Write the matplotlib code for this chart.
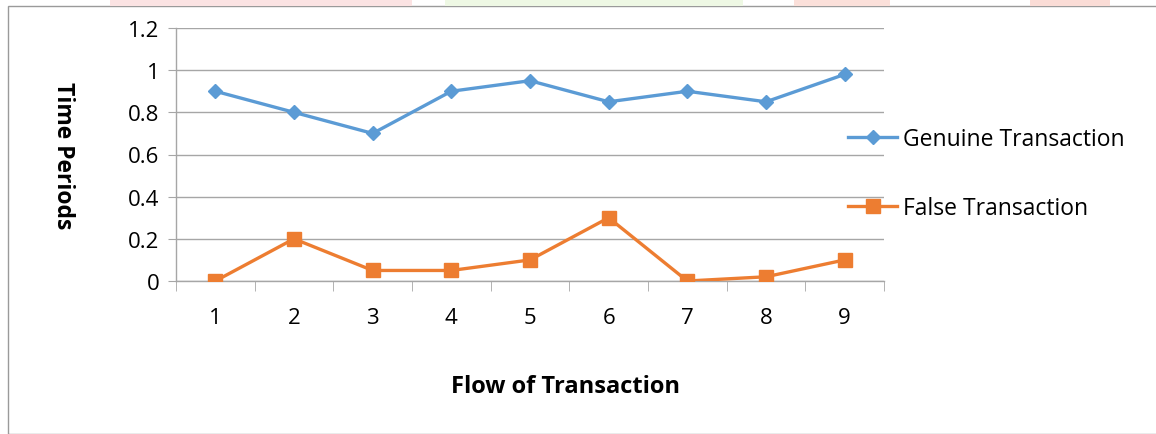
import matplotlib
matplotlib.use("Agg")

import matplotlib.pyplot as plt
from matplotlib.patches import Rectangle

# ---------------- data ----------------
flows = [1, 2, 3, 4, 5, 6, 7, 8, 9]
genuine = [0.90, 0.80, 0.70, 0.90, 0.95, 0.85, 0.90, 0.85, 0.98]
false_tx = [0.00, 0.20, 0.05, 0.05, 0.10, 0.30, 0.00, 0.02, 0.10]
y_ticks = [0, 0.2, 0.4, 0.6, 0.8, 1.0, 1.2]
y_tick_labels = ["0", "0.2", "0.4", "0.6", "0.8", "1", "1.2"]

BLUE = "#5B9BD5"
ORANGE = "#ED7D31"
GRID = "#A6A6A6"

plt.rcParams["font.family"] = ["Open Sans", "DejaVu Sans"]

W, H = 1156, 435
fig = plt.figure(figsize=(W / 100, H / 100), dpi=100, facecolor="white")

# page frame + faint watermark strip at the top
fig.add_artist(Rectangle((8 / W, 0), 1.2, 1 - 7 / H, transform=fig.transFigure,
                         fill=False, edgecolor="#9A9A9A", lw=1.0))
for x0, x1, c in [(110, 412, "#FBE3E3"), (445, 743, "#EEF8E4"),
                  (794, 890, "#FBE0DA"), (1030, 1110, "#FADCD6")]:
    fig.add_artist(Rectangle((x0 / W, 1 - 7 / H), (x1 - x0) / W, 7 / H,
                             transform=fig.transFigure, color=c, lw=0))

ax = fig.add_axes([176 / W, 1 - 282 / H, (884 - 176) / W, (282 - 29) / H])

ax.plot(flows, genuine, color=BLUE, lw=2.4, marker="D", markersize=7.5,
        label="Genuine Transaction", zorder=3)
ax.plot(flows, false_tx, color=ORANGE, lw=2.4, marker="s", markersize=9.5,
        label="False Transaction", zorder=3)

ax.set_xlim(0.5, 9.5)
ax.set_ylim(0, 1.2)
ax.set_yticks(y_ticks)
ax.set_yticklabels(y_tick_labels)
ax.set_xticks(flows)
ax.set_xticklabels([str(f) for f in flows])
ax.set_xticks([f + 0.5 for f in [0] + flows], minor=True)

ax.grid(axis="y", color=GRID, lw=1.0)
ax.set_axisbelow(True)
for sp in ["top", "right"]:
    ax.spines[sp].set_visible(False)
ax.spines["left"].set_color(GRID)
ax.spines["bottom"].set_color(GRID)
ax.spines["left"].set_linewidth(1.0)
ax.spines["bottom"].set_linewidth(1.0)

ax.tick_params(axis="y", length=6, color=GRID, labelsize=16, pad=6)
ax.tick_params(axis="x", which="major", length=0, labelsize=16, pad=19)
ax.tick_params(axis="x", which="minor", length=7, color=GRID)
ax.set_ylim(0, 1.2)

ax.set_ylabel("Time Periods", fontsize=16.5, fontweight="bold", rotation=-90,
              va="center", labelpad=0)
ax.yaxis.set_label_coords((63 - 176) / 708, 0.5)
ax.set_xlabel("Flow of Transaction", fontsize=17, fontweight="bold")
ax.xaxis.set_label_coords(0.55, (282 - 375) / 253)

ax.legend(loc="center left", bbox_to_anchor=(0.92, 0.425), frameon=False,
          fontsize=16.5, handlelength=2.15, handletextpad=0.26, labelspacing=1.95)

fig.savefig("out.png", dpi=100, facecolor="white")
